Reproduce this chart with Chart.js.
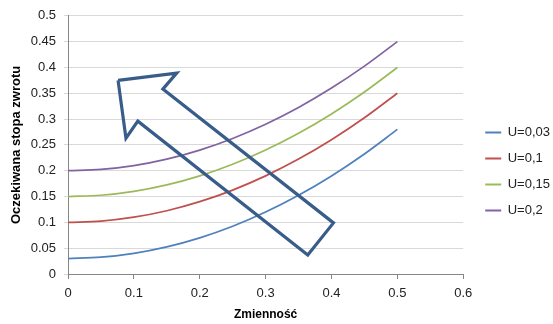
<!DOCTYPE html>
<html>
<head>
<meta charset="utf-8">
<script src="https://cdn.jsdelivr.net/npm/chart.js@4/dist/chart.umd.min.js"></script>
<style>
  html, body { margin: 0; padding: 0; background: #ffffff; }
</style>
</head>
<body>
<canvas id="myChart" width="553" height="324"></canvas>
<script>
// volatility (x) and expected return for each U
var zmiennosc = [0, 0.05, 0.1, 0.15, 0.2, 0.25, 0.3, 0.35, 0.4, 0.45, 0.5];
var u003 = [0.03, 0.0325, 0.04, 0.0525, 0.07, 0.0925, 0.12, 0.1525, 0.19, 0.2325, 0.28];
var u01  = [0.10, 0.1025, 0.11, 0.1225, 0.14, 0.1625, 0.19, 0.2225, 0.26, 0.3025, 0.35];
var u015 = [0.15, 0.1525, 0.16, 0.1725, 0.19, 0.2125, 0.24, 0.2725, 0.31, 0.3525, 0.40];
var u02  = [0.20, 0.2025, 0.21, 0.2225, 0.24, 0.2625, 0.29, 0.3225, 0.36, 0.4025, 0.45];

var seriesNames = ['U=0,03', 'U=0,1', 'U=0,15', 'U=0,2'];
var seriesColors = ['#4F81BD', '#C0504D', '#9BBB59', '#8064A2'];

// big outlined arrow, corners in axis units
var arrowX = [0.076, 0.165, 0.144, 0.403, 0.364, 0.106, 0.088, 0.076];
var arrowY = [0.375, 0.389, 0.358, 0.099, 0.037, 0.296, 0.263, 0.375];

function toPoints(xs, ys) {
    return xs.map(function (x, i) { return { x: x, y: ys[i] }; });
}

var seriesValues = [u003, u01, u015, u02];
var datasets = seriesValues.map(function (vals, i) {
    return {
        label: seriesNames[i],
        data: toPoints(zmiennosc, vals),
        borderColor: seriesColors[i],
        backgroundColor: seriesColors[i],
        borderWidth: 1.75,
        pointRadius: 0,
        showLine: true,
        cubicInterpolationMode: 'monotone'
    };
});

datasets.push({
    label: 'arrow',
    data: toPoints(arrowX, arrowY),
    borderColor: '#385D8A',
    borderWidth: 3.2,
    borderJoinStyle: 'miter',
    pointRadius: 0,
    showLine: true,
    tension: 0,
    order: -1
});

var font = "'Liberation Sans', Arial, sans-serif";

// push the legend a bit away from the plot area
var legendShift = {
    id: 'legendShift',
    afterLayout: function (c) {
        c.legend.left += 9;
        c.legend.right += 9;
        c.legend.top += 3;
        c.legend.bottom += 3;
    }
};

function shortNum(value) {
    return String(Number(value.toFixed(2)));
}

var ctx = document.getElementById('myChart').getContext('2d');
var chart = new Chart(ctx, {
    type: 'scatter',
    data: { datasets: datasets },
    plugins: [legendShift],
    options: {
        responsive: false,
        animation: false,
        devicePixelRatio: 1,
        layout: { padding: { top: 15, right: 2, bottom: 2, left: 4 } },
        plugins: {
            tooltip: { enabled: false },
            legend: {
                position: 'right',
                labels: {
                    font: { family: font, size: 13 },
                    color: '#222',
                    boxWidth: 16,
                    boxHeight: 2,
                    padding: 13,
                    filter: function (item) { return item.text !== 'arrow'; },
                    generateLabels: function (c) {
                        var items = Chart.defaults.plugins.legend.labels.generateLabels(c);
                        items.forEach(function (it) { it.lineWidth = 0; });
                        return items;
                    }
                }
            }
        },
        scales: {
            x: {
                type: 'linear',
                min: 0,
                max: 0.6,
                ticks: {
                    stepSize: 0.1,
                    font: { family: font, size: 13 },
                    color: '#222',
                    padding: 7,
                    callback: shortNum
                },
                grid: {
                    drawOnChartArea: false,
                    drawTicks: true,
                    tickLength: 5,
                    color: '#868686'
                },
                border: { color: '#868686' },
                title: {
                    display: true,
                    text: 'Zmienność',
                    font: { family: font, size: 12, weight: 'bold' },
                    color: '#000',
                    padding: { top: 3, bottom: 0 }
                },
                afterFit: function (scale) { scale.height = 48; }
            },
            y: {
                type: 'linear',
                min: 0,
                max: 0.5,
                ticks: {
                    stepSize: 0.05,
                    font: { family: font, size: 13 },
                    color: '#222',
                    padding: 8,
                    callback: shortNum
                },
                grid: {
                    color: '#D9D9D9',
                    tickLength: 4
                },
                border: { color: '#868686' },
                title: {
                    display: true,
                    text: 'Oczekiwana stopa zwrotu',
                    font: { family: font, size: 13, weight: 'bold' },
                    color: '#000',
                    padding: { top: 5, bottom: 4 }
                },
                afterFit: function (scale) { scale.width = 64; }
            }
        }
    }
});
</script>
</body>
</html>
